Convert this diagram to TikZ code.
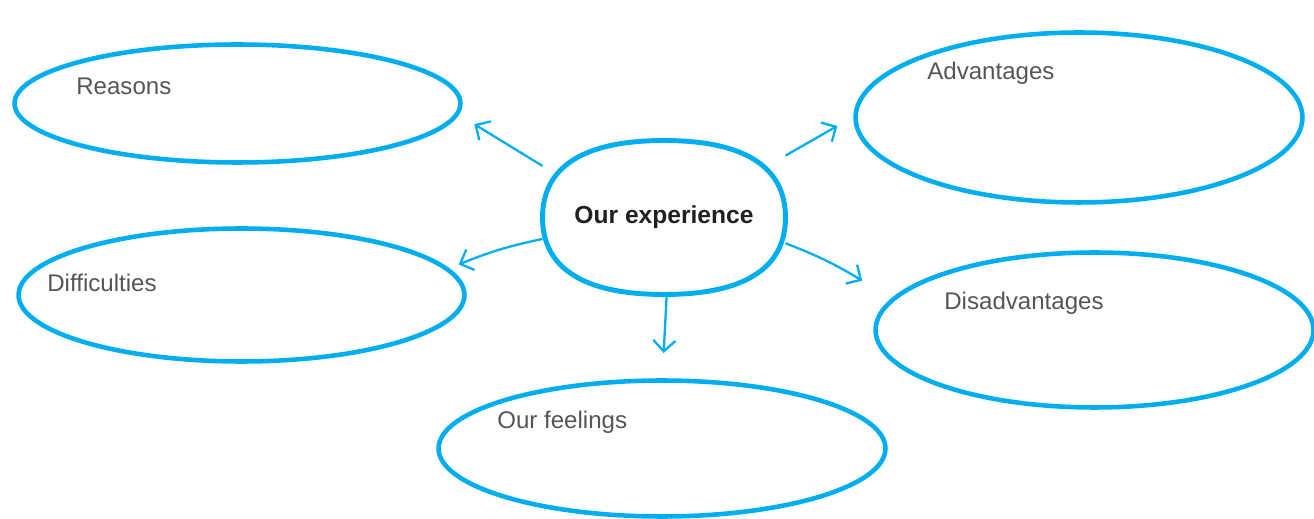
\documentclass[tikz,border=0pt]{standalone}
\usepackage{fontspec}
\setmainfont{Liberation Sans}
\usetikzlibrary{arrows.meta,positioning,shapes.geometric}
\definecolor{Sky}{HTML}{00AEEF}
\definecolor{Ink}{HTML}{231F20}
\definecolor{Graphite}{HTML}{555555}
\tikzset{
  bubble/.style={
    ellipse, draw=Sky, line width=2.6pt, inner sep=0pt
  },
  core/.style={
    rectangle, outer sep=0pt, minimum width=4.86cm, minimum height=3.08cm,
    text=Ink, font=\fontsize{14}{16}\selectfont\bfseries
  },
  rim/.style={draw=Sky, line width=2.8pt, line join=round},
  topic/.style={
    anchor=base west, inner sep=0pt, text=Graphite,
    font=\fontsize{13.7}{16}\selectfont
  },
  link/.style={-{Straight Barb[length=2.2mm,width=4.4mm]}, draw=Sky, line width=1.3pt}
}

\begin{document}
\begin{tikzpicture}[x=0.02cm,y=-0.02cm]
    \useasboundingbox (0,0) rectangle (1314,519);
    \node[core] (exp) at (664,217.5) {Our experience};
    \draw[rim] (exp.north) .. controls +(80,0) and +(0,-51) .. (exp.east)
      .. controls +(0,51) and +(80,0) .. (exp.south)
      .. controls +(-80,0) and +(0,51) .. (exp.west)
      .. controls +(0,-51) and +(-80,0) .. (exp.north) -- cycle;
    \node[bubble,minimum width=8.92cm,minimum height=2.36cm,outer sep=0.44cm] (reasons) at (237.5,103.5) {};
    \node[bubble,minimum width=8.94cm,minimum height=3.40cm,outer sep=0.38cm] (adv) at (1079,117.5) {};
    \node[bubble,minimum width=8.92cm,minimum height=2.66cm,outer sep=0.25cm] (diff) at (241.5,295) {};
    \node[bubble,minimum width=8.76cm,minimum height=3.10cm,outer sep=0.76cm] (disadv) at (1094.5,330) {};
    \node[bubble,minimum width=8.94cm,minimum height=2.72cm,outer sep=0.55cm] (feel) at (662,448.5) {};
    \node[topic] (reasons-t) at (76,95) {Reasons};
    \node[topic] (adv-t) at (927,80) {Advantages};
    \node[topic] (diff-t) at (47,292) {Difficulties};
    \node[topic] (disadv-t) at (944,310) {Disadvantages};
    \node[topic] (feel-t) at (497,429) {Our feelings};
    \draw[link] (exp.157) -- (reasons.-5);
    \draw[link] (exp.27) -- (adv.-178);
    \draw[link] (exp.-170) to[bend right=5] (diff.8);
    \draw[link] (exp.-12) to[bend left=5] (disadv.168);
    \draw[link] (exp.-88) -- (feel.89);
  \end{tikzpicture}
\end{document}
